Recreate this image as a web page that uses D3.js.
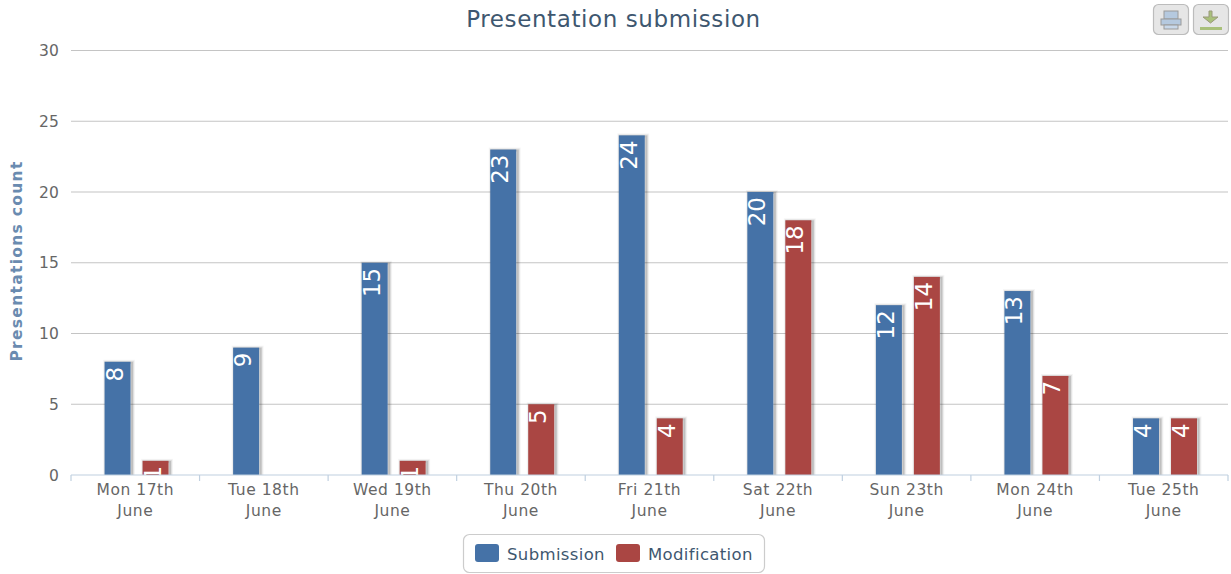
<!DOCTYPE html>
<html><head><meta charset="utf-8">
<script src="https://cdn.jsdelivr.net/npm/d3@7/dist/d3.min.js"></script>
<style>html,body{margin:0;padding:0;background:#fff}svg{display:block}text{font-family:"DejaVu Sans",sans-serif}</style>
</head><body><div id="c"></div>
<script>
const categoryLine1=["Mon 17th","Tue 18th","Wed 19th","Thu 20th","Fri 21th","Sat 22th","Sun 23th","Mon 24th","Tue 25th"];
const submission=[8,9,15,23,24,20,12,13,4];
const modification=[1,0,1,5,4,18,14,7,4];
const yTicks=[0,5,10,15,20,25,30];
const seriesNames=["Submission","Modification"];
const colors=["#4572A7","#AA4643"];

const W=1231,H=574,L=71,R=1228,T=50.5,B=475;
const svg=d3.select("#c").append("svg").attr("width",W).attr("height",H);
const x=d3.scaleBand().domain(d3.range(9)).range([L,R]);
const inner=d3.scaleBand().domain([0,1]).range([0,x.bandwidth()]).paddingInner(0.316).paddingOuter(0.85).align(0.52);
const y=d3.scaleLinear().domain([0,30]).range([B,T]);

svg.append("defs").append("clipPath").attr("id","pc").append("rect").attr("x",L).attr("y",T-30).attr("width",R-L).attr("height",B-T+30);

// grid
svg.append("g").selectAll("line").data(yTicks.slice(1)).join("line")
 .attr("x1",L).attr("x2",R).attr("y1",d=>y(d)).attr("y2",d=>y(d)).attr("stroke","#c4c4c4").attr("stroke-width",1.2);
// y labels
svg.append("g").selectAll("text").data(yTicks).join("text")
 .attr("x",59).attr("y",d=>y(d)+5.5).attr("text-anchor","end").attr("fill","#666").style("font-size","15.5px").style("letter-spacing","0.2px").text(d=>d);
// y title
svg.append("text").attr("transform",`translate(22,261) rotate(-90)`).attr("text-anchor","middle")
 .attr("fill","#6a8bb0").style("font-size","15.5px").style("font-weight","bold").style("letter-spacing","1.3px").text("Presentations count");
// title
svg.append("text").attr("x",613.5).attr("y",27).attr("text-anchor","middle").attr("fill","#3E576F").style("font-size","23px").style("letter-spacing","0.6px").text("Presentation submission");

// bars
const plot=svg.append("g").attr("clip-path","url(#pc)");
[submission,modification].forEach((vals,si)=>{
  const g=plot.append("g");
  const data=vals.map((v,i)=>({v,i})).filter(d=>d.v>0);
  [[6,0.04],[4,0.08],[2,0.15]].forEach(([sw,op])=>{
    g.selectAll(null).data(data).join("rect")
     .attr("x",d=>x(d.i)+inner(si)+1.5).attr("y",d=>y(d.v)+1)
     .attr("width",inner.bandwidth()).attr("height",d=>B-y(d.v))
     .attr("fill","none").attr("stroke","#000").attr("stroke-opacity",op).attr("stroke-width",sw);
  });
  g.selectAll(null).data(data).join("rect")
   .attr("x",d=>x(d.i)+inner(si)).attr("y",d=>y(d.v))
   .attr("width",inner.bandwidth()).attr("height",d=>B-y(d.v)).attr("fill",colors[si]);
  g.selectAll(null).data(data).join("text")
   .attr("transform",d=>`translate(${x(d.i)+inner(si)+inner.bandwidth()/2+5},${y(d.v)+5}) rotate(-90)`)
   .attr("text-anchor","end").attr("fill","#fff").style("font-size","23px").text(d=>d.v);
});

// x axis
svg.append("line").attr("x1",L).attr("x2",R).attr("y1",B).attr("y2",B).attr("stroke","#C0D0E0").attr("stroke-width",1.2);
svg.append("g").selectAll("line").data(d3.range(10)).join("line")
 .attr("x1",d=>L+d*x.bandwidth()).attr("x2",d=>L+d*x.bandwidth()).attr("y1",B).attr("y2",B+6).attr("stroke","#C0D0E0").attr("stroke-width",1.2);
const xl=svg.append("g").selectAll("text").data(d3.range(9)).join("text")
 .attr("text-anchor","middle").attr("fill","#666").style("font-size","15.5px").style("letter-spacing","0.55px");
xl.append("tspan").attr("x",d=>x(d)+x.bandwidth()/2).attr("y",495).text(d=>categoryLine1[d]);
xl.append("tspan").attr("x",d=>x(d)+x.bandwidth()/2).attr("y",516).text("June");

// legend
svg.append("rect").attr("x",463.5).attr("y",534.5).attr("width",301).attr("height",38).attr("rx",6).attr("fill","#fff").attr("stroke","#ccc").attr("stroke-width",1.2);
const lx=[475,616];
seriesNames.forEach((n,i)=>{
  svg.append("rect").attr("x",lx[i]).attr("y",544).attr("width",24).attr("height",18).attr("rx",3).attr("fill",colors[i]);
  svg.append("text").attr("x",lx[i]+32).attr("y",560).attr("fill","#3E576F").style("font-size","16.5px").style("letter-spacing","0.35px").text(n);
});

// export buttons
const btn=(bx,draw)=>{
  const g=svg.append("g").attr("transform",`translate(${bx},4)`);
  g.append("rect").attr("x",0.5).attr("y",0.5).attr("width",35).attr("height",30).attr("rx",5).attr("fill","#e6e6e6").attr("stroke","#bcbcbc").attr("stroke-width",1.2);
  draw(g);
};
btn(1153,g=>{
  g.append("rect").attr("x",11).attr("y",7).attr("width",14).attr("height",8).attr("fill","#b5c9df").attr("stroke","#9a9a9a");
  g.append("rect").attr("x",8).attr("y",15).attr("width",20).attr("height",6).attr("fill","#b5c9df").attr("stroke","#9a9a9a");
  g.append("rect").attr("x",11).attr("y",21).attr("width",14).attr("height",4).attr("fill","#c8d8ea").attr("stroke","#9a9a9a");
});
btn(1193,g=>{
  g.append("path").attr("d","M16 7h3v6h6l-7.5 6l-7.5-6h6z").attr("fill","#a9c07a").attr("stroke","#9a9a7a");
  g.append("rect").attr("x",7).attr("y",23).attr("width",22).attr("height",3).attr("fill","#a9c07a");
});
</script></body></html>
